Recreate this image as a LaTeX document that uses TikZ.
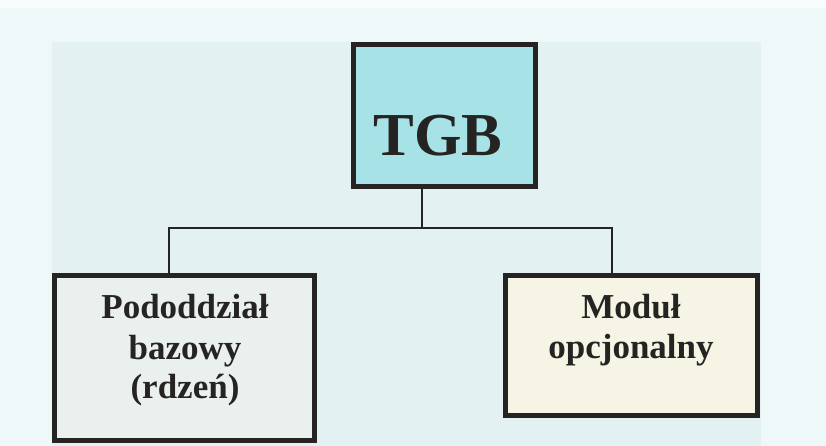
\documentclass[tikz,border=0pt]{standalone}
\usepackage{fontspec}
\setmainfont{Liberation Serif}
\definecolor{bgouter}{HTML}{EEF8F8}
\definecolor{bgtop}{HTML}{F8FBFB}
\definecolor{bginner}{HTML}{E4F1F3}
\definecolor{tgbfill}{HTML}{A6E2E6}
\definecolor{leftfill}{HTML}{EAF0EE}
\definecolor{rightfill}{HTML}{F6F4E4}
\definecolor{ink}{HTML}{262422}
\tikzset{
  boxstyle/.style={draw=ink, line width=5pt, rectangle, inner sep=0pt},
  bigtext/.style={font=\fontsize{61}{61}\selectfont\bfseries, text=ink, inner sep=0pt},
  smalltext/.style={font=\fontsize{35}{35}\selectfont\bfseries, text=ink, inner sep=0pt, anchor=base},
  conn/.style={draw=ink, line width=1.5pt}
}
\begin{document}
\begin{tikzpicture}[x=1pt,y=-1pt]
\useasboundingbox (0,0) rectangle (826,446);
\fill[bgouter] (0,0) rectangle (826,446);
\fill[bgtop] (0,0) rectangle (826,8);
\fill[bginner] (52,42) rectangle (761,446);

\node[boxstyle, fill=tgbfill, minimum width=182pt, minimum height=142pt] (tgb) at (444.5,115.5) {};
\node[bigtext] (tgbtext) at (438,136) {TGB};

\node[boxstyle, fill=leftfill, minimum width=260pt, minimum height=165pt] (lbox) at (184.5,358) {};
\node[smalltext] (l1) at (185,318) {Pododdział};
\node[smalltext] (l2) at (185,359) {bazowy};
\node[smalltext] (l3) at (185,398) {(rdzeń)};

\node[boxstyle, fill=rightfill, minimum width=252pt, minimum height=140pt] (rbox) at (631.5,345.5) {};
\node[smalltext] (r1) at (631,318) {Moduł};
\node[smalltext] (r2) at (631,358) {opcjonalny};

\coordinate (j) at (422,228);
\coordinate (jl) at (169,228);
\coordinate (jr) at (612,228);
\draw[conn] (tgb.south -| j) -- (j);
\draw[conn] (lbox.north -| jl) -- (jl) -- (jr) -- (rbox.north -| jr);
\end{tikzpicture}
\end{document}
